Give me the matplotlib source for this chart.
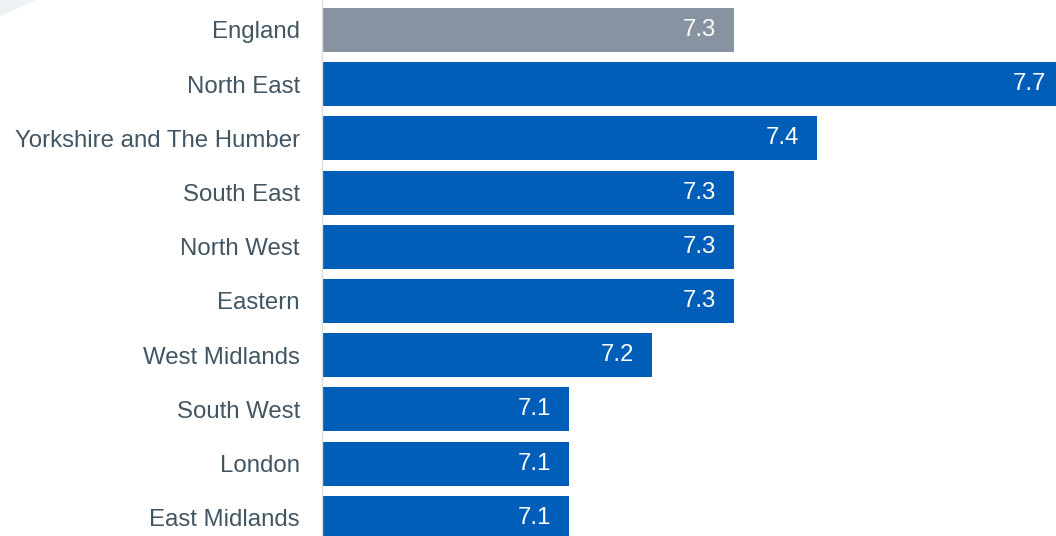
import matplotlib
matplotlib.use("Agg")
import matplotlib.pyplot as plt
from matplotlib.patches import Polygon

plt.rcParams['font.family'] = ['Liberation Sans', 'DejaVu Sans']

regions = ["England", "North East", "Yorkshire and The Humber", "South East",
           "North West", "Eastern", "West Midlands", "South West", "London",
           "East Midlands"]
scores = [7.3, 7.7, 7.4, 7.3, 7.3, 7.3, 7.2, 7.1, 7.1, 7.1]

blue = "#005EB8"
grey = "#8793A0"
label_col = "#425563"

fig = plt.figure(figsize=(10.56, 5.36), dpi=100)

# faint corner decoration
fig.patches.append(Polygon([[0, 1], [0.034, 1], [0, 0.97]], closed=True,
                           transform=fig.transFigure, facecolor="#EEF1F4",
                           edgecolor="none", zorder=0))

ax = fig.add_axes([322 / 1056, 0, 1 - 322 / 1056, 1])
ax.set_facecolor("none")

base = 6.8
ypos = list(range(len(regions)))
colors = [grey] + [blue] * (len(regions) - 1)
ax.barh(ypos, [s - base for s in scores], left=base, height=0.81,
        color=colors, zorder=2)

for y, s in zip(ypos, scores):
    ax.annotate(f"{s:.1f}", xy=(s, y), xytext=(-13, 0), textcoords="offset points",
                ha="right", va="center", color="white", fontsize=17.3,
                annotation_clip=False, zorder=3)

ax.set_xlim(base, 7.69)
ax.set_ylim(9.336, -0.553)
ax.set_yticks(ypos)
ax.set_yticklabels(regions, fontsize=17.3, color=label_col)
ax.tick_params(axis='y', length=0, pad=16)
ax.set_xticks([])
for side in ["top", "right", "bottom"]:
    ax.spines[side].set_visible(False)
ax.spines["left"].set_color("#D9DDE1")
ax.spines["left"].set_linewidth(1)

fig.savefig("out.png", dpi=100)
